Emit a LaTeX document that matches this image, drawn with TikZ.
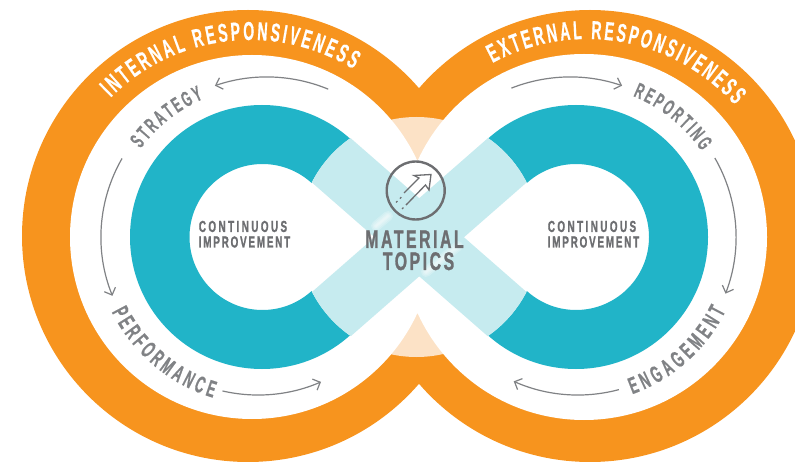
\documentclass[tikz,border=0pt]{standalone}
\usepackage{fontspec}
\usetikzlibrary{arrows.meta,decorations.text}
\newfontfamily\ff[FakeStretch=0.62,FakeBold=1.0]{Liberation Sans Bold}
\newfontfamily\fa[FakeStretch=0.54,FakeBold=0.5]{Liberation Sans Bold}
\definecolor{orangec}{HTML}{F7941E}
\definecolor{peachc}{HTML}{FCE2C6}
\definecolor{tealc}{HTML}{21B4C8}
\definecolor{lightc}{HTML}{C6EBEF}
\definecolor{greyc}{HTML}{808285}
\definecolor{darkc}{HTML}{6D6E71}
\tikzset{
  cyc/.style={draw=greyc,line width=1.2pt,-{Straight Barb[length=6pt,width=12pt,line width=1.2pt]}},
  icon/.style={draw=darkc,line width=1.3pt},
  big/.style={text=darkc,font=\fontsize{25.5}{25.5}\selectfont\ff\addfontfeature{LetterSpace=10},inner sep=0pt,anchor=base},
  small/.style={text=darkc,font=\fontsize{16}{16}\selectfont\ff\addfontfeature{LetterSpace=15},inner sep=0pt,anchor=base},
  smaller/.style={text=darkc,font=\fontsize{16}{16}\selectfont\ff\addfontfeature{LetterSpace=11},inner sep=0pt,anchor=base},
  streak/.style={draw=white,opacity=.22,line cap=round},
}
\newcommand{\arctext}[8]{% cx cy r a b size colour text
  \path[decorate,decoration={text along path,text align=fit to path,text color=#7,
    text={|\fontsize{#6}{#6}\selectfont\fa|#8}}]
    ([shift={(#4:#3pt)}]#1,-#2) arc[start angle=#4,end angle=#5,radius=#3pt];}
\newcommand{\cyc}[5]{% cx cy r a b
  \draw[cyc] ([shift={(#4:#3pt)}]#1,-#2) arc[start angle=#4,end angle=#5,radius=#3pt];}
\newcommand{\streakline}[2]{%
  \foreach \w in {10,7,4,2}{\draw[streak,line width=\w pt] #1 -- #2;}}
\begin{document}
\begin{tikzpicture}[x=1pt,y=1pt]
\useasboundingbox (0,-462) rectangle (795,0);
\clip (0,-462) rectangle (795,0);
% orange ring
\fill[orangec] (248,-236) circle (226pt) (590,-236) circle (226pt);
\fill[peachc] (416.5,-237) circle (120pt);
\fill[white] (252,-237) circle (182pt) (584,-237) circle (183pt);
% teal rings
\begin{scope}[even odd rule]
\clip (0,-462) rectangle (795,0) (419.25,-237) circle (120.5pt);
\fill[tealc] (262,-237) circle (132pt) (262.5,-237) circle (73pt);
\fill[tealc] (576,-237) circle (132pt) (576,-237) circle (73pt);
\end{scope}
% light crossing
\begin{scope}
\clip (419.25,-237) circle (120.5pt);
\fill[lightc] (315,-107) -- (562,-323) -- (523,-367) -- (277,-152) -- cycle;
\fill[lightc] (523.5,-107) -- (276.5,-323) -- (315.5,-367) -- (561.5,-152) -- cycle;
\streakline{(376,-226)}{(388,-216)}
\streakline{(426,-272)}{(458,-246)}
\end{scope}
% titles
\arctext{250}{237}{197}{135}{58.4}{26}{white}{INTERNAL RESPONSIVENESS}
\arctext{587}{237}{198}{118.5}{41.8}{26}{white}{EXTERNAL RESPONSIVENESS}
\arctext{262}{237}{150}{144}{113}{21.5}{greyc}{STRATEGY}
\arctext{576}{237}{152}{68}{34.4}{21.5}{greyc}{REPORTING}
\arctext{262}{237}{168}{206.5}{253}{23.5}{greyc}{PERFORMANCE}
\arctext{576}{237}{167}{289.7}{333.7}{23.5}{greyc}{ENGAGEMENT}
% cycle arrows
\cyc{267}{237}{160}{67.5}{109}
\cyc{258}{237}{157}{150}{202}
\cyc{258}{237}{158}{257}{293.5}
\cyc{578}{237}{158}{30}{-21}
\cyc{570}{237}{160}{111.5}{71}
\cyc{578}{237}{158}{285}{246}
% icon
\draw[icon,line width=2.4pt] (415.7,-190.5) circle (29pt);
\draw[icon,line join=miter] (404,-193) -- (419,-178) -- (414,-175.5) -- (431,-174.5) -- (429,-190) -- (425.5,-185) -- (407,-204);
\draw[icon,dash pattern=on 2pt off 3.5pt] (396,-202.5) -- (402,-196.5);
\draw[icon,dash pattern=on 2pt off 3.5pt] (402,-209) -- (408,-203);
% labels
\node[big] (mat) at (414.5,-248) {MATERIAL};
\node[big] (top) at (418.5,-270) {TOPICS};
\node[small] (cl1) at (243,-232) {CONTINUOUS};
\node[smaller] (cl2) at (244.5,-247.5) {IMPROVEMENT};
\node[small] (cr1) at (592,-232) {CONTINUOUS};
\node[smaller] (cr2) at (593.5,-247.5) {IMPROVEMENT};
\end{tikzpicture}
\end{document}
